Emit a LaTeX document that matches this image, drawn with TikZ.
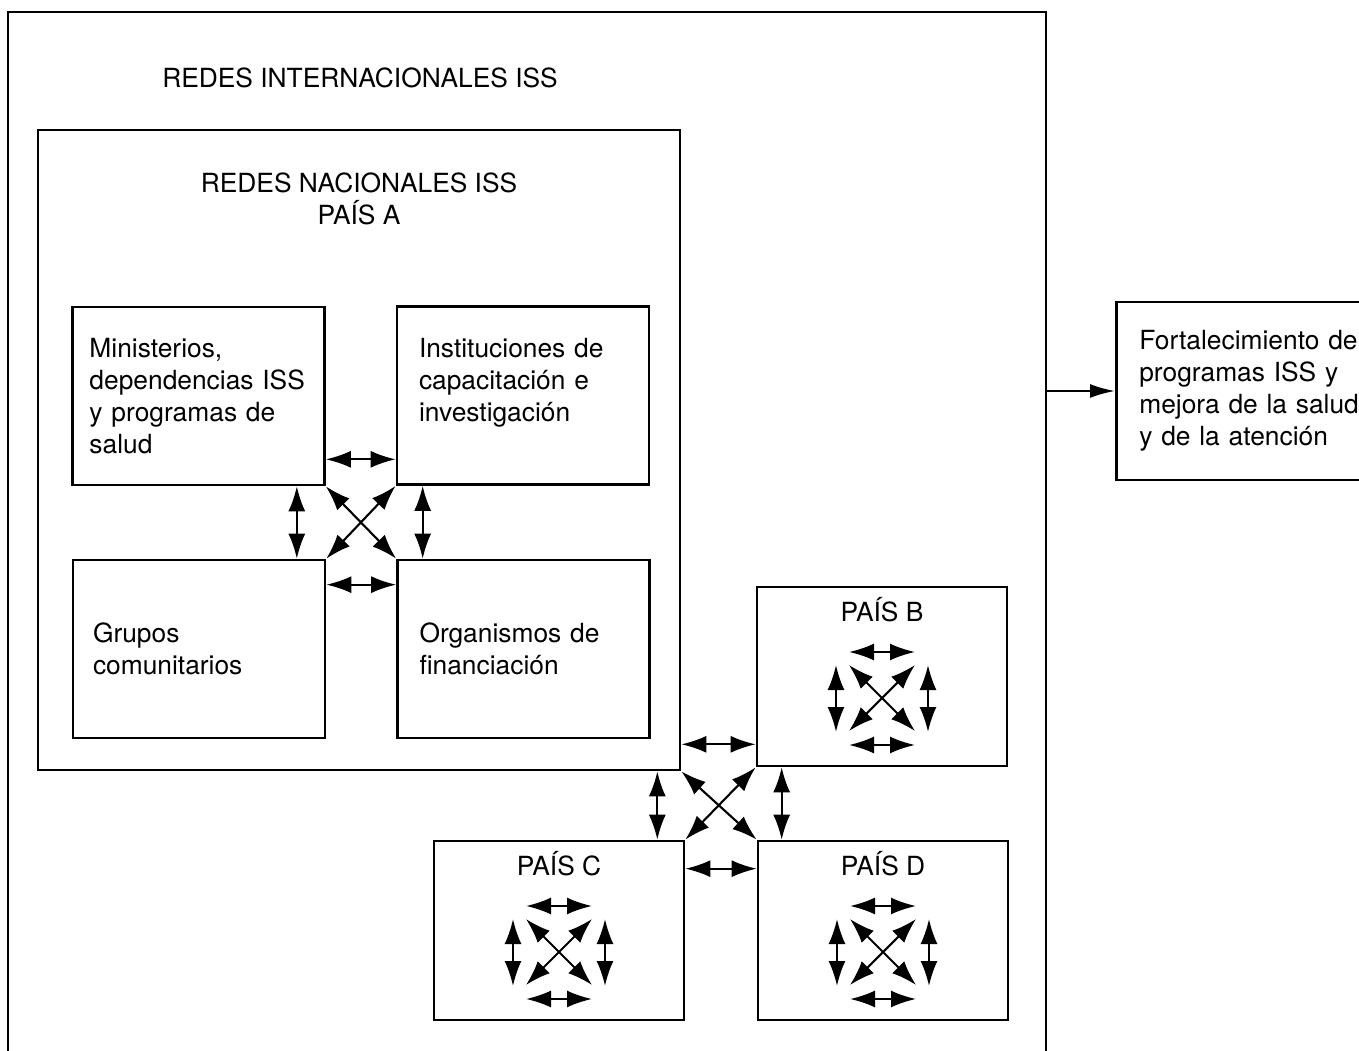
\documentclass[tikz,border=0pt]{standalone}
\usepackage{fontspec}
\setmainfont{TeX Gyre Heros}
\usetikzlibrary{arrows.meta}

\begin{document}
\begin{tikzpicture}[
  every node/.style={font=\fontsize{7.5}{9.1}\selectfont},
  box/.style={draw, line width=0.75pt, inner sep=0pt},
  orgbox/.style={box, minimum width=2.52cm, minimum height=1.78cm,
                 text width=2.18cm, align=left},
  pais/.style={box, minimum width=2.5cm, minimum height=1.79cm},
  link/.style={{Latex[length=2.5mm,width=1.7mm]}-{Latex[length=2.5mm,width=1.7mm]}, line width=0.6pt},
  flow/.style={-{Latex[length=2.5mm,width=1.4mm]}, line width=0.6pt}
]
\useasboundingbox (0,0) rectangle (13.59,-10.51);
\clip (0,0) rectangle (13.59,-10.51);

% international network (bottom edge runs off the page)
\node[minimum width=10.38cm, minimum height=11cm, inner sep=0pt, outer sep=0pt,
      anchor=north west] (intl) at (0.08,-0.12) {};
\draw[line width=0.75pt] (intl.south west) -- (intl.north west) -- (intl.north east) -- (intl.south east);
\node[anchor=base] (intlT) at (3.60,-0.875) {REDES INTERNACIONALES ISS};

% national network, country A
\node[box, minimum width=6.42cm, minimum height=6.40cm] (natA) at (3.59,-4.50) {};
\node[anchor=base, align=center] (natT) at (3.59,-2.245) {REDES NACIONALES ISS\\PAÍS A};

\node[orgbox] (mini) at (1.985,-3.96) {Ministerios,\\dependencias ISS\\y programas de\\salud};
\node[orgbox, text width=2.08cm] (inst) at (5.23,-3.955) {Instituciones de\\capacitación e\\investigación\\\mbox{}};
\node[orgbox, text width=2.12cm] (grup) at (1.99,-6.49) {Grupos\\comunitarios};
\node[orgbox, text width=2.08cm] (org) at (5.235,-6.49) {Organismos de\\financiación};

\coordinate (aN) at ([yshift=2.7mm]mini.south east);
\coordinate (aS) at ([yshift=-2.6mm]grup.north east);
\coordinate (aW) at ([xshift=-2.9mm]mini.south east);
\coordinate (aE) at ([xshift=2.7mm]inst.south west);
\draw[link] (aN) -- (aN -| inst.west);
\draw[link] (aS) -- (aS -| org.west);
\draw[link] (aW) -- (aW |- grup.north);
\draw[link] (aE) -- (aE |- org.north);
\draw[link] (mini.south east) -- (org.north west);
\draw[link] (inst.south west) -- (grup.north east);

% other countries
\node[pais] (paisB) at (8.82,-6.765) {};
\node[pais] (paisC) at (5.59,-9.305) {};
\node[pais] (paisD) at (8.83,-9.305) {};
\node[anchor=base] (paisBT) at ([yshift=-3.6mm]paisB.north) {PAÍS B};
\node[anchor=base] (paisCT) at ([yshift=-3.6mm]paisC.north) {PAÍS C};
\node[anchor=base] (paisDT) at ([yshift=-3.6mm]paisD.north) {PAÍS D};

\foreach \b in {paisB,paisC,paisD}{
  \begin{scope}[shift={([yshift=-2.15mm]\b.center)}]
    \draw[link] (-0.33,0.46) -- (0.33,0.46);
    \draw[link] (-0.33,-0.47) -- (0.33,-0.47);
    \draw[link] (-0.46,0.33) -- (-0.46,-0.34);
    \draw[link] (0.46,0.33) -- (0.46,-0.34);
    \draw[link] (-0.33,0.33) -- (0.33,-0.33);
    \draw[link] (0.33,0.33) -- (-0.33,-0.33);
  \end{scope}
}

\coordinate (cN) at ([yshift=2.3mm]paisB.south west);
\coordinate (cS) at ([yshift=-2.9mm]paisC.north east);
\coordinate (cW) at ([xshift=-2.8mm]paisC.north east);
\coordinate (cE) at ([xshift=2.5mm]paisD.north west);
\draw[link] (cN -| natA.east) -- (cN);
\draw[link] (cS) -- (cS -| paisD.west);
\draw[link] (cW) -- (cW |- natA.south);
\draw[link] (cE) -- (cE |- paisB.south);
\draw[link] (natA.south east) -- (paisD.north west);
\draw[link] (paisB.south west) -- (paisC.north east);

% outcome
\node[box, anchor=west, minimum height=1.78cm, text width=2.3cm, inner xsep=2.3mm,
      align=left] (fort) at (11.15,-3.91)
  {Fortalecimiento de\\programas ISS y\\mejora de la salud\\y de la atención};
\draw[flow] (fort.west -| intl.east) -- (fort.west);

\end{tikzpicture}
\end{document}
